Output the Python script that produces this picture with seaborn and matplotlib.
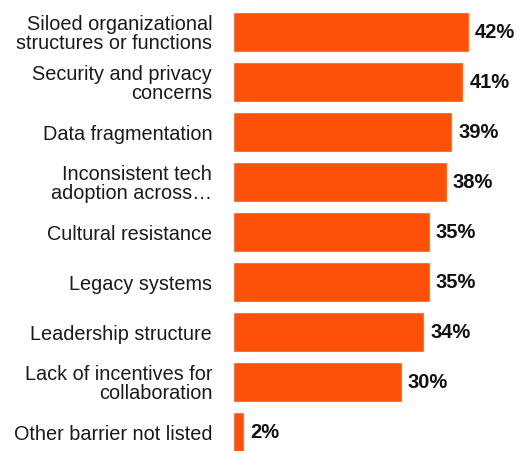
import matplotlib
matplotlib.use("Agg")
import matplotlib.pyplot as plt
import seaborn as sns
import pandas as pd

categories = [
    "Siloed organizational\nstructures or functions",
    "Security and privacy\nconcerns",
    "Data fragmentation",
    "Inconsistent tech\nadoption across\u2026",
    "Cultural resistance",
    "Legacy systems",
    "Leadership structure",
    "Lack of incentives for\ncollaboration",
    "Other barrier not listed",
]
values = [42, 41, 39, 38, 35, 35, 34, 30, 2]
value_labels = ["42%", "41%", "39%", "38%", "35%", "35%", "34%", "30%", "2%"]

sns.set_theme(style="white")
plt.rcParams['font.family'] = ['Liberation Sans', 'DejaVu Sans']

df = pd.DataFrame({"cat": categories, "val": values})

fig = plt.figure(figsize=(5.19, 4.51), dpi=100)
ax = fig.add_axes([233/519, (451-452)/451, 281/519, 440/451])
sns.barplot(data=df, x="val", y="cat", orient="h", color="#FD5108",
            width=0.8, saturation=1, ax=ax)
ax.set_xlim(0, 50)
ax.set_ylim(8.4, -0.4)
ax.set_xlabel("")
ax.set_ylabel("")
ax.set_xticks([])
ax.tick_params(axis="y", length=0, pad=15, labelsize=14.3, colors="#1a1a1a")
for lbl in ax.get_yticklabels():
    lbl.set_multialignment("right")
    lbl.set_linespacing(1.0)
for s in ax.spines.values():
    s.set_visible(False)

for i, (v, t) in enumerate(zip(values, value_labels)):
    ax.annotate(t, xy=(v, i), xytext=(4.3, 0), textcoords="offset points",
                ha="left", va="center", fontsize=14.5, fontweight="bold",
                color="#111111")

fig.savefig("out.png", dpi=100)
